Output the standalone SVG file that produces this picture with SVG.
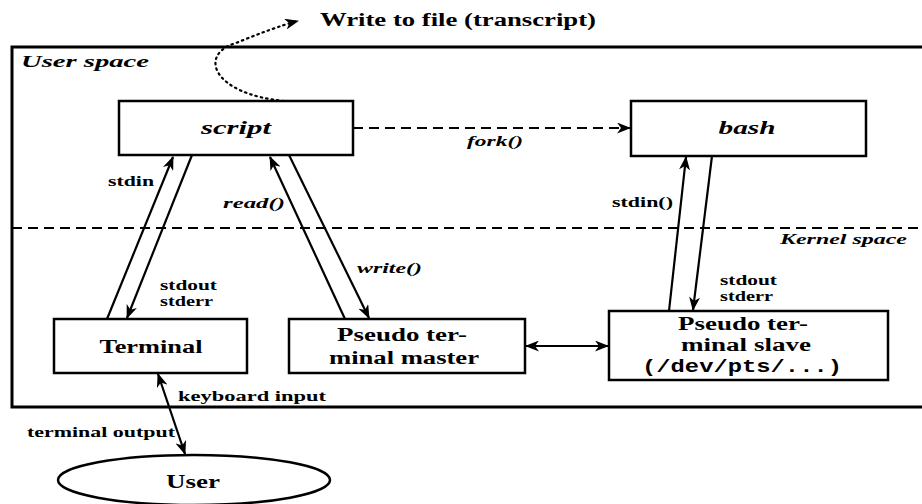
<svg xmlns="http://www.w3.org/2000/svg" width="922" height="504" viewBox="0 0 922 504">
  <style>
    .box { fill: #fff; stroke: #000; stroke-width: 2.5; }
    .frame { fill: none; stroke: #000; stroke-width: 3; }
    .line { fill: none; stroke: #000; stroke-width: 2.2; }
    .dash { fill: none; stroke: #000; stroke-width: 2.2; stroke-dasharray: 10 6; }
    .dot { fill: none; stroke: #000; stroke-width: 2.2; stroke-dasharray: 1.5 4; stroke-linecap: round; }
    text { font-family: "Liberation Serif", "DejaVu Serif", serif; font-weight: bold; fill: #000; }
    .node { font-size: 18px; text-anchor: middle; }
    .it { font-style: italic; }
    .lbl { font-size: 14px; }
    .mono { font-family: "Liberation Mono", "DejaVu Sans Mono", monospace; }
  </style>
  <defs>
    <marker id="arr" viewBox="0 0 14 11" refX="13" refY="5.5" markerWidth="14" markerHeight="11" markerUnits="userSpaceOnUse" orient="auto-start-reverse">
      <path d="M0,0 L14,5.5 L0,11 L4,5.5 Z" fill="#000"/>
    </marker>
  </defs>

  <!-- user space frame and kernel boundary -->
  <g id="frame">
    <rect class="frame" x="12" y="47" width="930" height="360"/>
    <line class="dash" x1="12" y1="228" x2="922" y2="228"/>
    <text class="it" x="21" y="67" font-size="16" textLength="128" lengthAdjust="spacingAndGlyphs">User space</text>
    <text class="it" x="780" y="244" font-size="14" textLength="127" lengthAdjust="spacingAndGlyphs">Kernel space</text>
  </g>

  <g id="transcript">
    <text x="320" y="26" font-size="18" textLength="276" lengthAdjust="spacingAndGlyphs">Write to file (transcript)</text>
  </g>

  <g id="script">
    <rect class="box" x="119" y="101" width="234" height="54"/>
    <text class="node it" x="236" y="134" textLength="70" lengthAdjust="spacingAndGlyphs">script</text>
  </g>

  <g id="bash">
    <rect class="box" x="631" y="101" width="235" height="55"/>
    <text class="node it" x="747" y="134" textLength="57" lengthAdjust="spacingAndGlyphs">bash</text>
  </g>

  <g id="terminal">
    <rect class="box" x="54" y="319" width="193" height="54"/>
    <text class="node" x="151" y="353" textLength="103" lengthAdjust="spacingAndGlyphs">Terminal</text>
  </g>

  <g id="pty-master">
    <rect class="box" x="289" y="319" width="236" height="54"/>
    <text class="node" x="402" y="341" textLength="130" lengthAdjust="spacingAndGlyphs">Pseudo ter-</text>
    <text class="node" x="404" y="364" textLength="150" lengthAdjust="spacingAndGlyphs">minal master</text>
  </g>

  <g id="pty-slave">
    <rect class="box" x="609" y="311" width="279" height="69"/>
    <text class="node" x="743" y="330" textLength="130" lengthAdjust="spacingAndGlyphs">Pseudo ter-</text>
    <text class="node" x="746" y="351" textLength="130" lengthAdjust="spacingAndGlyphs">minal slave</text>
    <text class="node mono" x="742" y="372" textLength="200" lengthAdjust="spacingAndGlyphs">(/dev/pts/...)</text>
  </g>

  <g id="user">
    <ellipse class="box" cx="194" cy="480" rx="136" ry="25"/>
    <text class="node" x="193" y="488" textLength="54" lengthAdjust="spacingAndGlyphs">User</text>
  </g>

  <g id="connectors">
    <!-- transcript output -->
    <path class="dot" d="M284,101 C212,94 198,54 236,43 C258,34 282,25 298,21" marker-end="url(#arr)"/>
    <!-- fork -->
    <line class="dash" x1="353" y1="128" x2="630" y2="128" marker-end="url(#arr)"/>
    <!-- terminal <-> script -->
    <line class="line" x1="107" y1="319" x2="173" y2="157" marker-end="url(#arr)"/>
    <line class="line" x1="192" y1="155" x2="127" y2="318" marker-end="url(#arr)"/>
    <!-- master <-> script -->
    <line class="line" x1="345" y1="319" x2="270" y2="157" marker-end="url(#arr)"/>
    <line class="line" x1="289" y1="155" x2="369" y2="318" marker-end="url(#arr)"/>
    <!-- slave <-> bash -->
    <line class="line" x1="669" y1="311" x2="686" y2="157" marker-end="url(#arr)"/>
    <line class="line" x1="712" y1="156" x2="693" y2="310" marker-end="url(#arr)"/>
    <!-- master <-> slave -->
    <line class="line" x1="526" y1="346" x2="608" y2="346" marker-start="url(#arr)" marker-end="url(#arr)"/>
    <!-- terminal <-> user -->
    <line class="line" x1="158" y1="374" x2="185" y2="454" marker-start="url(#arr)" marker-end="url(#arr)"/>

    <text class="lbl it" x="467" y="146" textLength="56" lengthAdjust="spacingAndGlyphs">fork()</text>
    <text class="lbl" x="108" y="186" textLength="46" lengthAdjust="spacingAndGlyphs">stdin</text>
    <text class="lbl it" x="223" y="208" textLength="62" lengthAdjust="spacingAndGlyphs">read()</text>
    <text class="lbl" x="160" y="290" textLength="57" lengthAdjust="spacingAndGlyphs">stdout</text>
    <text class="lbl" x="160" y="306" textLength="53" lengthAdjust="spacingAndGlyphs">stderr</text>
    <text class="lbl it" x="357" y="273" textLength="65" lengthAdjust="spacingAndGlyphs">write()</text>
    <text class="lbl" x="612" y="207" textLength="61" lengthAdjust="spacingAndGlyphs">stdin()</text>
    <text class="lbl" x="720" y="285" textLength="57" lengthAdjust="spacingAndGlyphs">stdout</text>
    <text class="lbl" x="720" y="301" textLength="53" lengthAdjust="spacingAndGlyphs">stderr</text>
    <text class="lbl" x="178" y="401" font-size="15" textLength="148" lengthAdjust="spacingAndGlyphs">keyboard input</text>
    <text class="lbl" x="27" y="437" textLength="148" lengthAdjust="spacingAndGlyphs">terminal output</text>
  </g>
</svg>
